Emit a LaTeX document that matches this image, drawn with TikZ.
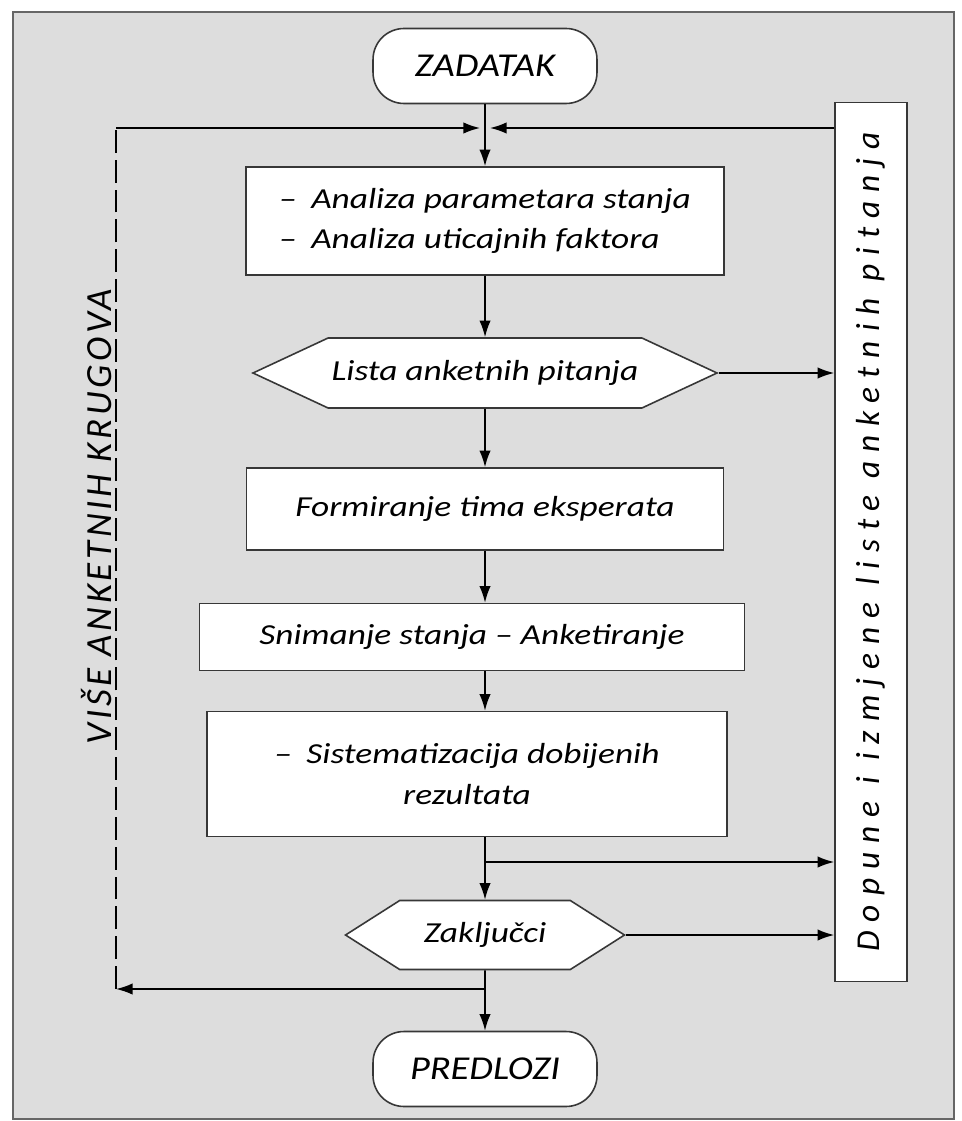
\documentclass[tikz,border=0pt]{standalone}
\usepackage{fontspec}
\setmainfont{Carlito}
\newfontfamily\wideFont[FakeStretch=1.22]{Carlito}
\newfontfamily\termFont[FakeStretch=1.15]{Carlito}
\usetikzlibrary{positioning,shapes.symbols,arrows.meta}
\definecolor{bggray}{RGB}{221,221,221}
\definecolor{edgegray}{RGB}{55,55,55}

\tikzset{
  stepbox/.style={draw=edgegray, fill=white, line width=0.9pt, inner sep=2pt,
    font=\wideFont\itshape\fontsize{16.5}{23}\selectfont},
  hexbox/.style={stepbox, shape=signal, signal to=east and west, signal from=nowhere,
    minimum height=1.4cm},
  termbox/.style={draw=edgegray, fill=white, line width=0.9pt, rounded corners=0.62cm,
    minimum width=4.48cm, minimum height=1.5cm, font=\termFont\itshape\fontsize{19}{22}\selectfont},
  loopline/.style={dash pattern=on 13pt off 4pt}
}

\begin{document}
\begin{tikzpicture}
    [x=0.02cm, y=-0.02cm, line width=0.9pt, >={Latex[length=9.5pt,width=6.5pt]}]
  \useasboundingbox (0,0) rectangle (961,1121);
  \draw[draw=black!60, fill=bggray, line width=1.6pt] (13,12) rectangle (954,1119);

  % main column
  \coordinate (col) at (485,0);
  \node[termbox] (zad) at (485,66) {ZADATAK};
  \coordinate (jtop) at (485,128);
  \node[stepbox, minimum width=9.56cm, minimum height=2.16cm, align=left] (anal) at (485,221)
    {–\enspace Analiza parametara stanja\\–\enspace Analiza uticajnih faktora};
  \node[hexbox, minimum width=8.8cm, signal pointer angle=50] (lista) at (485,373) {Lista anketnih pitanja};
  \node[stepbox, minimum width=9.54cm, minimum height=1.64cm] (tim) at (485,509) {Formiranje tima eksperata};
  \node[stepbox, minimum width=10.9cm, minimum height=1.34cm] (snim) at (472,637) {Snimanje stanja – Anketiranje};
  \node[stepbox, minimum width=10.4cm, minimum height=2.5cm, align=center] (sist) at (467,774)
    {–\enspace Sistematizacija dobijenih\\rezultata};
  \coordinate (jmid) at (485,862);
  \node[hexbox, minimum width=5.58cm, minimum height=1.38cm, signal pointer angle=65] (zakl) at (485,935) {Zaključci};
  \coordinate (jbot) at (485,989);
  \node[termbox] (pred) at (485,1069) {PREDLOZI};

  % side boxes
  \node[stepbox, rotate=90, minimum width=17.58cm, minimum height=1.44cm,
    font=\itshape\fontsize{19}{22}\selectfont\addfontfeatures{LetterSpace=27}] (dop) at (871,542)
    {Dopune i izmjene liste anketnih pitanja};
  \coordinate (jleft) at (116,128);
  \coordinate (jlbot) at (116,989);
  \node[rotate=90, font=\itshape\fontsize{21}{24}\selectfont\addfontfeatures{LetterSpace=10}] (krug) at (97,517)
    {VIŠE ANKETNIH KRUGOVA};

  % connectors
  \draw (zad) -- (jtop);
  \draw[->] (jtop) -- (anal);
  \draw[->] (jleft) -- ([xshift=-0.1cm]jtop);
  \draw[->] (dop.north |- jtop) -- ([xshift=0.1cm]jtop);
  \draw[->] (anal) -- (lista);
  \draw[->] (lista) -- (tim);
  \draw[->] (lista.east) -- (lista.east -| dop.north);
  \draw[->] (tim.south) -- (col |- snim.north);
  \draw[->] (col |- snim.south) -- (col |- sist.north);
  \draw (col |- sist.south) -- (jmid);
  \draw[->] (jmid) -- (zakl);
  \draw[->] (jmid) -- (jmid -| dop.north);
  \draw[->] (zakl.east) -- (zakl.east -| dop.north);
  \draw (zakl) -- (jbot);
  \draw[->] (jbot) -- (pred);
  \draw[->] (jbot) -- (jlbot);
  \draw[loopline] (jlbot) -- (jleft);
\end{tikzpicture}
\end{document}
